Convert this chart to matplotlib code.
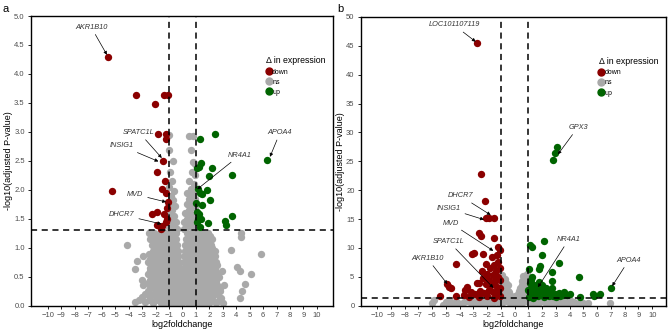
import matplotlib.pyplot as plt
from matplotlib.lines import Line2D

# ---------- panel a data (log2foldchange, -log10 padj) ----------
down_a = [(-5.55, 4.30), (-3.43, 3.63), (-1.39, 3.63), (-1.10, 3.63), (-2.07, 3.48),
          (-1.84, 2.96), (-1.22, 2.96), (-1.20, 2.88), (-1.47, 2.50), (-1.89, 2.30),
          (-1.27, 2.16), (-5.22, 1.98), (-1.50, 2.01), (-1.22, 1.94), (-1.10, 1.79),
          (-1.14, 1.68), (-1.89, 1.62), (-2.26, 1.58), (-1.39, 1.58), (-1.14, 1.49),
          (-1.90, 1.40), (-1.50, 1.37), (-1.60, 1.33), (-1.20, 1.45)]
up_a = [(1.29, 2.88), (2.44, 2.96), (1.37, 2.46), (1.22, 2.40), (6.32, 2.52),
        (2.21, 2.38), (1.10, 2.37), (1.96, 2.24), (3.70, 2.26), (1.16, 2.02),
        (1.85, 2.00), (1.30, 1.94), (1.45, 1.92), (2.03, 1.83), (1.02, 1.78),
        (1.47, 1.73), (1.10, 1.62), (1.24, 1.58), (1.35, 1.50), (1.15, 1.50),
        (1.87, 1.43), (3.16, 1.46), (3.22, 1.40), (3.72, 1.54), (1.34, 1.35),
        (1.05, 1.45)]
ns_a = [
    # upper lobes
    (-0.98, 2.95), (-1.02, 2.68), (-0.67, 2.50), (-0.90, 2.30), (-0.75, 2.15),
    (-1.00, 2.05), (-0.60, 1.98), (-0.85, 1.90), (-0.70, 1.82), (-1.00, 1.75),
    (-0.55, 1.72), (-0.80, 1.65), (-0.95, 1.58), (-0.60, 1.55), (-0.75, 1.48),
    (-0.45, 1.45), (-0.90, 1.42), (-0.60, 1.38), (-1.00, 1.35), (-0.80, 1.32),
    (-0.40, 1.33),
    (0.50, 2.93), (0.77, 2.93), (0.65, 2.69), (0.80, 2.48), (0.90, 2.45),
    (0.70, 2.30), (0.95, 2.25), (0.50, 2.15), (0.85, 2.10), (0.60, 2.02),
    (0.35, 1.95), (0.75, 1.92), (0.95, 1.85), (0.50, 1.85), (0.30, 1.75),
    (0.70, 1.75), (0.90, 1.68), (0.45, 1.65), (0.20, 1.60), (0.65, 1.58),
    (0.85, 1.52), (0.35, 1.50), (0.15, 1.45), (0.55, 1.45), (0.80, 1.40),
    (0.30, 1.38), (0.60, 1.35), (0.95, 1.33), (0.10, 1.33),
    # core
    (-2.5, 1.25), (-2.1, 1.25), (-1.7, 1.25), (-1.3, 1.25), (-0.9, 1.25), (-0.5, 1.25),
    (0.3, 1.25), (0.7, 1.25), (1.1, 1.25), (1.5, 1.25), (1.9, 1.25),
    (-2.3, 1.20), (-1.9, 1.20), (-1.5, 1.20), (-1.1, 1.20), (-0.7, 1.20),
    (0.45, 1.20), (0.85, 1.20), (1.25, 1.20), (1.65, 1.20), (2.05, 1.20),
    (-2.4, 1.15), (-2.0, 1.15), (-1.6, 1.15), (-1.2, 1.15), (-0.8, 1.15), (-0.45, 1.15),
    (0.25, 1.15), (0.6, 1.15), (1.0, 1.15), (1.4, 1.15), (1.8, 1.15), (2.2, 1.15),
    (-2.2, 1.10), (-1.8, 1.10), (-1.4, 1.10), (-1.0, 1.10), (-0.6, 1.10),
    (0.4, 1.10), (0.8, 1.10), (1.2, 1.10), (1.6, 1.10), (2.0, 1.10),
    (-4.1, 1.04), (-2.3, 1.05), (-1.9, 1.05), (-1.5, 1.05), (-1.1, 1.05), (-0.7, 1.05),
    (-0.4, 1.05), (0.2, 1.05), (0.55, 1.05), (0.9, 1.05), (1.3, 1.05), (1.7, 1.05), (2.1, 1.05),
    (-2.0, 1.00), (-1.6, 1.00), (-1.2, 1.00), (-0.8, 1.00), (-0.5, 1.00),
    (0.35, 1.00), (0.7, 1.00), (1.0, 1.00), (1.4, 1.00), (1.8, 1.00), (2.2, 1.00),
    (-2.2, 0.95), (-1.8, 0.95), (-1.4, 0.95), (-1.0, 0.95), (-0.6, 0.95), (-0.35, 0.95),
    (0.2, 0.95), (0.5, 0.95), (0.8, 0.95), (1.2, 0.95), (1.6, 0.95), (2.0, 0.95), (2.4, 0.95),
    (3.6, 0.96),
    (-2.5, 0.90), (-2.1, 0.90), (-1.7, 0.90), (-1.3, 0.90), (-0.9, 0.90), (-0.5, 0.90),
    (0.3, 0.90), (0.65, 0.90), (1.05, 0.90), (1.45, 0.90), (1.85, 0.90), (2.25, 0.90),
    (-2.9, 0.85), (-2.3, 0.85), (-1.9, 0.85), (-1.5, 0.85), (-1.1, 0.85), (-0.7, 0.85),
    (-0.3, 0.85), (0.15, 0.85), (0.45, 0.85), (0.85, 0.85), (1.25, 0.85), (1.65, 0.85),
    (2.05, 0.85), (2.45, 0.85),
    (-2.4, 0.80), (-2.0, 0.80), (-1.6, 0.80), (-1.2, 0.80), (-0.8, 0.80), (-0.45, 0.80),
    (0.3, 0.80), (0.7, 0.80), (1.1, 0.80), (1.5, 0.80), (1.9, 0.80), (2.3, 0.80),
    (-3.4, 0.77), (-2.6, 0.75), (-2.2, 0.75), (-1.8, 0.75), (-1.4, 0.75), (-1.0, 0.75),
    (-0.6, 0.75), (-0.25, 0.75), (0.15, 0.75), (0.5, 0.75), (0.9, 0.75), (1.3, 0.75),
    (1.7, 0.75), (2.1, 0.75), (2.5, 0.75),
    (-2.2, 0.70), (-1.8, 0.70), (-1.4, 0.70), (-1.0, 0.70), (-0.6, 0.70), (-0.3, 0.70),
    (0.25, 0.70), (0.6, 0.70), (1.0, 0.70), (1.4, 0.70), (1.8, 0.70), (2.2, 0.70), (2.6, 0.70),
    (-3.5, 0.64), (-2.4, 0.65), (-2.0, 0.65), (-1.6, 0.65), (-1.2, 0.65), (-0.8, 0.65),
    (-0.4, 0.65), (-0.15, 0.65), (0.1, 0.65), (0.4, 0.65), (0.8, 0.65), (1.2, 0.65),
    (1.6, 0.65), (2.0, 0.65), (2.4, 0.65), (2.96, 0.60), (4.08, 0.67),
    (-2.4, 0.60), (-2.0, 0.60), (-1.6, 0.60), (-1.2, 0.60), (-0.8, 0.60), (-0.5, 0.60),
    (-0.2, 0.60), (0.2, 0.60), (0.5, 0.60), (0.8, 0.60), (1.2, 0.60), (1.6, 0.60),
    (2.0, 0.60), (2.4, 0.60),
    (-2.6, 0.55), (-2.2, 0.55), (-1.8, 0.55), (-1.4, 0.55), (-1.0, 0.55), (-0.6, 0.55),
    (-0.3, 0.55), (0.0, 0.50), (0.3, 0.55), (0.6, 0.55), (1.0, 0.55), (1.4, 0.55),
    (1.8, 0.55), (2.2, 0.55), (2.6, 0.55), (4.3, 0.60), (5.07, 0.55),
    (-2.2, 0.50), (-1.8, 0.50), (-1.4, 0.50), (-1.0, 0.50), (-0.6, 0.50), (-0.2, 0.50),
    (0.2, 0.50), (0.6, 0.50), (1.0, 0.50), (1.4, 0.50), (1.8, 0.50), (2.2, 0.50), (2.7, 0.50),
    (-3.0, 0.44), (-2.4, 0.45), (-2.0, 0.45), (-1.6, 0.45), (-1.2, 0.45), (-0.8, 0.45),
    (-0.4, 0.45), (0.0, 0.40), (0.4, 0.45), (0.8, 0.45), (1.2, 0.45), (1.6, 0.45),
    (2.0, 0.45), (2.46, 0.43),
    (-2.6, 0.40), (-2.0, 0.40), (-1.6, 0.40), (-1.2, 0.40), (-0.8, 0.40), (-0.4, 0.40),
    (-0.2, 0.40), (0.2, 0.40), (0.6, 0.40), (1.0, 0.40), (1.4, 0.40), (1.8, 0.40), (2.2, 0.40),
    (-2.9, 0.35), (-2.2, 0.35), (-1.8, 0.35), (-1.4, 0.35), (-1.0, 0.35), (-0.6, 0.35),
    (-0.2, 0.35), (0.2, 0.35), (0.6, 0.35), (1.0, 0.35), (1.4, 0.35), (1.8, 0.35),
    (2.2, 0.35), (2.6, 0.35), (3.1, 0.35), (4.65, 0.37),
    (-2.4, 0.30), (-2.0, 0.30), (-1.6, 0.30), (-1.2, 0.30), (-0.8, 0.30), (-0.4, 0.30),
    (0.0, 0.30), (0.4, 0.30), (0.8, 0.30), (1.2, 0.30), (1.6, 0.30), (2.0, 0.30),
    (2.4, 0.30), (2.8, 0.30),
    (-2.6, 0.25), (-2.0, 0.25), (-1.6, 0.25), (-1.2, 0.25), (-0.8, 0.25), (-0.4, 0.25),
    (0.0, 0.25), (0.4, 0.25), (0.8, 0.25), (1.2, 0.25), (1.6, 0.25), (2.0, 0.25),
    (2.4, 0.25), (2.8, 0.25), (4.45, 0.25),
    (-2.8, 0.20), (-2.2, 0.20), (-1.8, 0.20), (-1.4, 0.20), (-1.0, 0.20), (-0.6, 0.20),
    (-0.2, 0.20), (0.2, 0.20), (0.6, 0.20), (1.0, 0.20), (1.4, 0.20), (1.8, 0.20),
    (2.2, 0.20), (2.6, 0.20),
    (-3.0, 0.15), (-2.4, 0.15), (-1.8, 0.15), (-1.4, 0.15), (-1.0, 0.15), (-0.6, 0.15),
    (-0.2, 0.15), (0.2, 0.15), (0.6, 0.15), (1.0, 0.15), (1.4, 0.15), (1.8, 0.15),
    (2.2, 0.15), (2.84, 0.13), (4.28, 0.14),
    (-3.2, 0.10), (-2.5, 0.10), (-2.0, 0.10), (-1.4, 0.10), (-1.0, 0.10), (-0.6, 0.10),
    (-0.2, 0.10), (0.2, 0.10), (0.6, 0.10), (1.0, 0.10), (1.4, 0.10), (1.8, 0.10),
    (2.2, 0.10), (2.7, 0.10),
    (-3.5, 0.07), (-2.76, 0.07), (-2.2, 0.05), (-1.6, 0.05), (-1.2, 0.05), (-0.8, 0.05),
    (-0.4, 0.05), (0.0, 0.05), (0.4, 0.05), (0.8, 0.05), (1.2, 0.05), (1.6, 0.05),
    (2.0, 0.05), (2.5, 0.05), (3.0, 0.05),
    (4.33, 1.25), (4.35, 1.19), (5.82, 0.90),
]

# ---------- panel b data ----------
down_b = [(-2.73, 45.4), (-2.48, 22.8), (-2.19, 18.2), (-2.12, 15.2), (-1.88, 15.2),
          (-1.51, 15.2), (-2.58, 12.5), (-2.45, 12.1), (-1.51, 11.7), (-1.25, 10.2),
          (-3.09, 8.9), (-2.95, 9.1), (-2.30, 8.9), (-1.68, 8.5), (-1.32, 8.8),
          (-1.10, 9.6), (-4.28, 7.2), (-2.10, 7.3), (-1.50, 7.0), (-1.20, 7.5),
          (-1.80, 6.5), (-2.40, 6.0), (-1.35, 6.0), (-1.05, 6.5), (-2.00, 5.5),
          (-1.60, 5.3), (-1.20, 5.0), (-2.30, 4.8), (-1.85, 4.5), (-1.45, 4.3),
          (-1.05, 4.5), (-2.60, 4.0), (-2.10, 3.8), (-1.70, 3.6), (-1.30, 3.3),
          (-1.10, 3.0), (-2.73, 4.0), (-4.90, 3.75), (-4.75, 3.3), (-4.64, 3.1),
          (-5.44, 1.7), (-4.30, 1.6), (-3.48, 3.3), (-3.60, 2.7), (-3.20, 2.3),
          (-2.90, 2.0), (-2.50, 2.6), (-2.20, 2.2), (-1.90, 2.8), (-1.60, 2.3),
          (-1.35, 1.9), (-1.10, 1.6), (-2.00, 1.6), (-2.60, 1.5), (-3.30, 1.5),
          (-3.70, 1.8), (-1.50, 1.4), (-1.20, 2.4)]
up_b = [(3.05, 27.5), (2.92, 26.4), (2.78, 25.2), (2.15, 11.2), (1.10, 10.5),
        (1.23, 10.1), (1.96, 8.8), (3.24, 7.4), (1.83, 6.9), (1.05, 6.3),
        (1.80, 6.3), (2.73, 5.9), (1.23, 5.0), (4.69, 4.9), (2.70, 4.3),
        (6.99, 3.0), (6.20, 2.1), (5.70, 2.0), (5.80, 1.7), (4.74, 1.45),
        (1.10, 4.0), (1.40, 3.6), (1.70, 3.2), (2.00, 3.5), (2.30, 3.0),
        (1.20, 3.0), (1.50, 2.7), (1.90, 2.5), (2.20, 2.2), (2.60, 2.5),
        (2.90, 2.0), (3.20, 2.2), (3.50, 1.8), (3.80, 1.9), (1.10, 2.2),
        (1.35, 1.8), (1.70, 1.6), (2.10, 1.5), (2.50, 1.6), (3.00, 1.5),
        (1.05, 1.5), (1.30, 1.4), (1.60, 2.1), (1.00, 2.8), (2.40, 1.9),
        (2.80, 1.7), (3.30, 1.6), (1.80, 4.1), (1.20, 4.5), (2.10, 2.7),
        (1.50, 3.3), (2.70, 3.0), (4.00, 2.0), (3.60, 2.3)]
ns_b = [(-5.88, 1.0), (-5.2, 0.2), (-4.6, 0.3), (-4.3, 0.9), (-4.1, 0.5), (-3.9, 0.3),
        (-3.5, 0.9), (-3.2, 0.4), (-2.9, 1.1), (-2.6, 0.5), (-2.3, 0.9), (-2.0, 0.4),
        (-1.8, 1.1), (-1.5, 0.6), (-1.3, 1.2), (-1.1, 0.3), (-1.0, 1.8), (-0.95, 3.0),
        (-0.95, 4.2), (-0.9, 5.3), (-0.85, 2.3), (-0.8, 3.6), (-0.75, 1.0), (-0.7, 4.6),
        (-0.65, 2.8), (-0.6, 1.7), (-0.5, 3.5), (-0.45, 0.6), (-0.4, 2.3), (-0.3, 1.4),
        (-0.2, 0.4), (-0.1, 1.0), (0.0, 0.3), (0.1, 1.2), (0.2, 0.6), (0.25, 2.0),
        (0.35, 1.2), (0.4, 3.0), (0.45, 0.4), (0.5, 4.2), (0.55, 2.2), (0.6, 5.2),
        (0.65, 3.5), (0.7, 1.5), (0.75, 5.0), (0.8, 4.3), (0.85, 2.6), (0.9, 0.8),
        (0.95, 3.5), (1.1, 0.4), (1.4, 0.9), (1.7, 0.3), (2.0, 0.8), (2.3, 0.4),
        (2.6, 1.0), (2.9, 0.3), (3.2, 0.7), (3.5, 0.4), (3.8, 0.9), (4.0, 1.0),
        (4.1, 0.3), (4.6, 0.2), (4.74, 0.7), (5.0, 0.5), (6.93, 0.45),
        (-6.0, 0.4), (-5.0, 0.6), (-4.8, 1.0), (-4.4, 0.2), (-3.7, 0.6), (-3.3, 1.0),
        (-3.0, 0.2), (-2.8, 0.7), (-2.4, 0.2), (-2.1, 1.0), (-1.7, 0.3), (-1.4, 0.9),
        (-1.2, 0.6), (-0.9, 0.5), (-0.85, 1.5), (-0.75, 2.0), (-0.7, 3.2), (-0.6, 3.9),
        (-0.55, 0.9), (-0.5, 2.6), (-0.35, 1.8), (-0.25, 0.8), (-0.05, 0.6), (0.05, 1.6),
        (0.15, 0.3), (0.3, 0.9), (0.3, 2.5), (0.45, 1.6), (0.5, 3.6), (0.6, 0.6),
        (0.65, 2.8), (0.7, 4.6), (0.8, 1.2), (0.85, 3.2), (0.9, 5.5), (0.95, 2.0),
        (1.2, 0.8), (1.5, 0.4), (1.9, 1.1), (2.2, 0.6), (2.5, 0.3), (2.8, 0.9),
        (3.1, 0.3), (3.4, 1.0), (3.7, 0.3), (4.3, 0.7), (4.9, 0.2), (5.3, 0.4)]

# gene labels: name, text position, arrow tip
genes_a = [("AKR1B10", (-6.8, 4.81), (-5.62, 4.33)),
           ("SPATC1L", (-3.23, 2.99), (-1.54, 2.55)),
           ("INSIG1", (-4.55, 2.76), (-1.79, 2.49)),
           ("MVD", (-3.5, 1.92), (-1.22, 1.79)),
           ("DHCR7", (-4.5, 1.57), (-1.57, 1.41)),
           ("APOA4", (7.26, 2.99), (6.51, 2.57)),
           ("NR4A1", (4.28, 2.60), (1.10, 2.01))]
genes_b = [("LOC101107119", (-4.42, 48.6), (-2.84, 45.7)),
           ("GPX3", (4.6, 30.9), (3.14, 26.2)),
           ("DHCR7", (-3.94, 19.0), (-1.75, 15.7)),
           ("INSIG1", (-4.79, 16.8), (-2.24, 14.9)),
           ("MVD", (-4.66, 14.3), (-1.56, 9.5)),
           ("SPATC1L", (-4.8, 11.1), (-1.56, 3.1)),
           ("AKR1B10", (-6.36, 8.2), (-4.9, 3.75)),
           ("NR4A1", (3.94, 11.5), (1.69, 3.2)),
           ("APOA4", (8.3, 7.9), (7.09, 3.4))]

col = {"down": "#8B0000", "ns": "#A9A9A9", "up": "#006400"}
plt.rcParams['font.family'] = ['Liberation Sans', 'DejaVu Sans']

fig = plt.figure(figsize=(6.69, 3.32), dpi=100)
ax_a = fig.add_axes([0.0463, 0.0792, 0.4515, 0.8726])
ax_b = fig.add_axes([0.5392, 0.0792, 0.4563, 0.8700])


def volcano(ax, ns, down, up, genes, xlim, ylim, yticks, yfmt):
    for pts, c in [(ns, col["ns"]), (down, col["down"]), (up, col["up"])]:
        ax.scatter([p[0] for p in pts], [p[1] for p in pts], s=28, color=c,
                   linewidths=0, zorder=2)
    for xv in (-1, 1):
        ax.axvline(xv, color="black", ls=(0, (4, 3)), lw=1.1, zorder=3)
    ax.axhline(1.301, color="black", ls=(0, (4, 3)), lw=1.1, zorder=3)
    for name, txt, tip in genes:
        ax.annotate(name, xy=tip, xytext=txt, fontsize=5.3, style="italic",
                    color="#333333", ha="center", va="center", zorder=4,
                    arrowprops=dict(arrowstyle="-|>", lw=0.5, color="black",
                                    mutation_scale=5, shrinkA=1, shrinkB=0))
    ax.set_xlim(*xlim)
    ax.set_ylim(*ylim)
    ax.set_xticks(range(-10, 11))
    ax.set_yticks(yticks)
    ax.set_yticklabels([yfmt % v for v in yticks])
    ax.tick_params(labelsize=5.5, labelcolor="#4D4D4D", length=2.5, width=0.6, pad=2)
    for s in ax.spines.values():
        s.set_linewidth(1.0)
    ax.set_xlabel("log2foldchange", fontsize=6.5, labelpad=1)
    ax.set_ylabel("-log10(adjusted P-value)", fontsize=6.5, labelpad=1)
    handles = [Line2D([], [], marker="o", ls="", color=col[k], markersize=5, label=k)
               for k in ["down", "ns", "up"]]
    ax.legend(handles=handles, title="\u0394 in expression", loc="upper left",
              bbox_to_anchor=(0.77, 0.87), frameon=False, fontsize=5,
              title_fontsize=6.3, handletextpad=0.05, labelspacing=0.45,
              handlelength=0.8, borderaxespad=0, alignment="left")


volcano(ax_a, ns_a, down_a, up_a, genes_a, (-11.27, 11.2), (0, 5),
        [0, 0.5, 1, 1.5, 2, 2.5, 3, 3.5, 4, 4.5, 5], "%.1f")
volcano(ax_b, ns_b, down_b, up_b, genes_b, (-11.2, 11.0), (0, 50),
        list(range(0, 51, 5)), "%d")

fig.text(0.004, 0.965, "a", fontsize=8)
fig.text(0.504, 0.965, "b", fontsize=8)

plt.savefig("out.png", dpi=100)
